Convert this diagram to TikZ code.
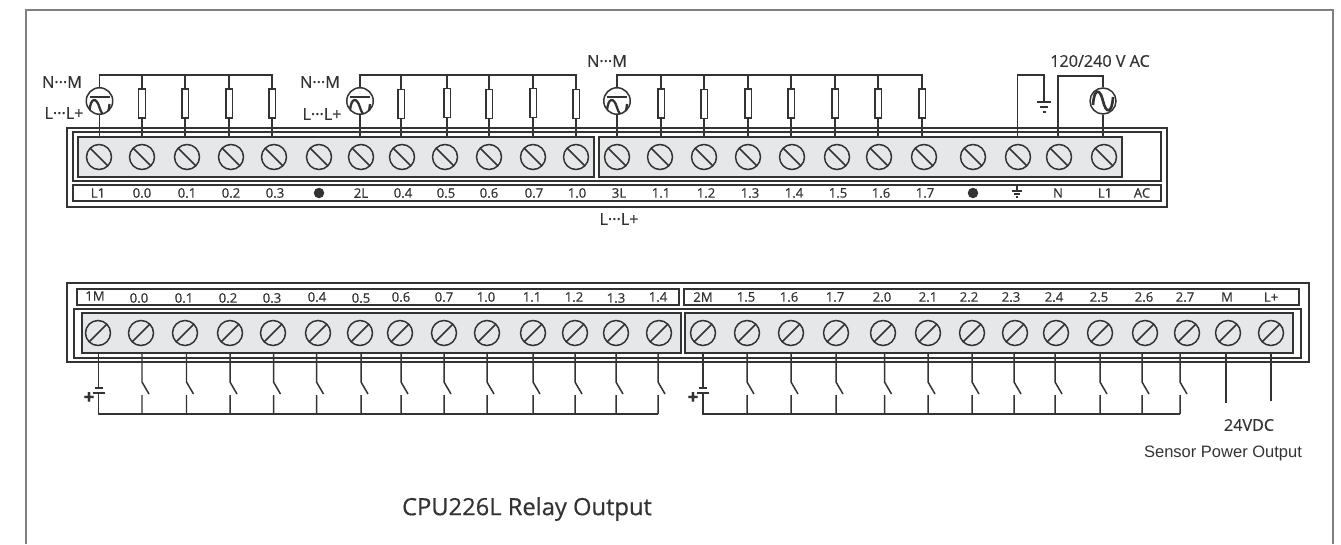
\documentclass[tikz,border=0pt]{standalone}
\usepackage{fontspec}
\setmainfont{Open Sans}[FakeBold=0.5]
\newfontfamily\sensorfont{Liberation Sans}
\usepackage{tikz}
\usetikzlibrary{calc}
\definecolor{wire}{HTML}{333333}
\definecolor{strip}{HTML}{E6E7E8}
\definecolor{sheet}{HTML}{808080}

\begin{document}
\begin{tikzpicture}[x=0.02cm,y=-0.02cm,line width=0.85pt,draw=wire,text=wire,
                    block/.style={draw, fill=strip, inner sep=0},
                    down/.style={circle, draw, inner sep=0, minimum size=0.5cm,
                                 path picture={\draw (path picture bounding box.north west) -- (path picture bounding box.south east);}},
                    up/.style={circle, draw, inner sep=0, minimum size=0.5cm,
                               path picture={\draw (path picture bounding box.south west) -- (path picture bounding box.north east);}},
                    res/.style={rectangle, draw, fill=white, inner sep=0, minimum width=0.13cm, minimum height=0.58cm},
                    ac/.style={circle, draw, fill=white, inner sep=0, minimum size=0.52cm,
                               path picture={\draw[line width=1.5pt, shift={(path picture bounding box.center)}]
                                  (-10,4) .. controls (-9,-13) and (-3,-13) .. (0,0) .. controls (3,13) and (9,13) .. (10,-4);}},
                    lamp/.style={circle, draw, fill=white, inner sep=0, minimum size=0.53cm,
                               path picture={\draw[line width=1.3pt, shift={(path picture bounding box.center)}]
                                  (-10,10) .. controls (-9,-4) and (-3,-4) .. (0,6.5) .. controls (3,17) and (9,17) .. (10,3);
                                  \draw[line width=1.7pt, shift={(path picture bounding box.center)}] (-10,-4) -- (10,-4);}},
                    lbl/.style={font=\fontsize{7.5}{8}\selectfont, inner sep=0},
                    volt/.style={font=\fontsize{9.2}{10}\selectfont, inner sep=0},
                    plus/.style={font=\bfseries\fontsize{11}{12}\selectfont, inner sep=0},
                    dot/.style={circle, fill=wire, inner sep=0, minimum size=0.21cm}]
    \useasboundingbox (0,0) rectangle (1341,544);

    % sheet border
    \coordinate (sheetBL) at (26,544);
    \coordinate (sheetTL) at (26,10);
    \coordinate (sheetTR) at (1333,10);
    \coordinate (sheetBR) at (1333,544);
    \draw[sheet, line width=1pt] (sheetBL) -- (sheetTL) -- (sheetTR) -- (sheetBR);

    % chart top
    \draw (67,128) rectangle (1167,207);
    \draw (73,132) rectangle (1161,181);
    \draw (73,185) rectangle (1161,201);
    \node[block, minimum width=10.32cm, minimum height=0.8cm] (boxTa) at (336,157) {};
    \node[block, minimum width=10.46cm, minimum height=0.8cm] (boxTb) at (860.5,157) {};

    % screws top
    \node[down] (a00) at (99,157) {};
    \node[down] (a01) at (142,157) {};
    \node[down] (a02) at (187,157) {};
    \node[down] (a03) at (231,157) {};
    \node[down] (a04) at (274,157) {};
    \node[down] (a05) at (319,157) {};
    \node[down] (a06) at (361,157) {};
    \node[down] (a07) at (402,157) {};
    \node[down] (a08) at (445,157) {};
    \node[down] (a09) at (489,157) {};
    \node[down] (a10) at (533,157) {};
    \node[down] (a11) at (576,157) {};
    \node[down] (a12) at (617,157) {};
    \node[down] (a13) at (660,157) {};
    \node[down] (a14) at (704,157) {};
    \node[down] (a15) at (748,157) {};
    \node[down] (a16) at (792,157) {};
    \node[down] (a17) at (837,157) {};
    \node[down] (a18) at (879,157) {};
    \node[down] (a19) at (924,157) {};
    \node[down] (a20) at (973,157) {};
    \node[down] (a21) at (1018,157) {};
    \node[down] (a22) at (1059,157) {};
    \node[down] (a23) at (1104,157) {};

    % labels top
    \node[lbl] (ta00) at (98,193) {L1};
    \node[lbl] (ta01) at (142,193) {0.0};
    \node[lbl] (ta02) at (187,193) {0.1};
    \node[lbl] (ta03) at (231,193) {0.2};
    \node[lbl] (ta04) at (275,193) {0.3};
    \node[dot] (ta05) at (319,193) {};
    \node[lbl] (ta06) at (361,193) {2L};
    \node[lbl] (ta07) at (403,193) {0.4};
    \node[lbl] (ta08) at (446,193) {0.5};
    \node[lbl] (ta09) at (489,193) {0.6};
    \node[lbl] (ta10) at (534,193) {0.7};
    \node[lbl] (ta11) at (577,193) {1.0};
    \node[lbl] (ta12) at (619,193) {3L};
    \node[lbl] (ta13) at (661,193) {1.1};
    \node[lbl] (ta14) at (706,193) {1.2};
    \node[lbl] (ta15) at (750,193) {1.3};
    \node[lbl] (ta16) at (794,193) {1.4};
    \node[lbl] (ta17) at (838,193) {1.5};
    \node[lbl] (ta18) at (881,193) {1.6};
    \node[lbl] (ta19) at (925,193) {1.7};
    \node[dot] (ta20) at (973,193) {};
    \node[lbl] (ta22) at (1058,193) {N};
    \node[lbl] (ta23) at (1105,193) {L1};
    \node[lbl] (ta24) at (1142,193) {AC};
    % earth in strip
    \coordinate (gndS) at (1017,191);
    \draw (gndS |- 0,185) -- (gndS);
    \draw (gndS) +(-5,0) -- +(5,0);
    \draw (gndS) +(-3,3) -- +(3,3);
    \draw (gndS) +(-1,6) -- +(1,6);

    % loads top
    \coordinate (busA) at (272,75);
    \coordinate (busB) at (576,75);
    \coordinate (busC) at (922,75);
    \node[lamp] (lampA) at (99.5,101) {};
    \node[res] (r01) at (142,103.5) {};
    \node[res] (r02) at (185,103.5) {};
    \node[res] (r03) at (229,103.5) {};
    \node[res] (r04) at (272,103.5) {};
    \node[lamp] (lampB) at (360,101) {};
    \node[res] (r07) at (401,104) {};
    \node[res] (r08) at (447,103) {};
    \node[res] (r09) at (489,104) {};
    \node[res] (r10) at (533,103) {};
    \node[res] (r11) at (576,104) {};
    \node[lamp] (lampC) at (617,101) {};
    \node[res] (r13) at (661,103.5) {};
    \node[res] (r14) at (704,104) {};
    \node[res] (r15) at (748,103.5) {};
    \node[res] (r16) at (791,103.5) {};
    \node[res] (r17) at (835,103.5) {};
    \node[res] (r18) at (878,103.5) {};
    \node[res] (r19) at (922,103.5) {};

    \draw (lampA.north) |- (busA) -- (r04.north);
    \draw (lampB.north) |- (busB) -- (r11.north);
    \draw (lampC.north) |- (busC) -- (r19.north);
    \draw (lampA.south) -- (lampA |- boxTa.north);
    \draw (lampB.south) -- (lampB |- boxTa.north);
    \draw (lampC.south) -- (lampC |- boxTb.north);
    \path[draw]
        (r01.north) edge (r01 |- busA)
        (r02.north) edge (r02 |- busA)
        (r03.north) edge (r03 |- busA)
        (r07.north) edge (r07 |- busB)
        (r08.north) edge (r08 |- busB)
        (r09.north) edge (r09 |- busB)
        (r10.north) edge (r10 |- busB)
        (r13.north) edge (r13 |- busC)
        (r14.north) edge (r14 |- busC)
        (r15.north) edge (r15 |- busC)
        (r16.north) edge (r16 |- busC)
        (r17.north) edge (r17 |- busC)
        (r18.north) edge (r18 |- busC)
        (r01.south) edge (r01 |- boxTa.north)
        (r02.south) edge (r02 |- boxTa.north)
        (r03.south) edge (r03 |- boxTa.north)
        (r04.south) edge (r04 |- boxTa.north)
        (r07.south) edge (r07 |- boxTa.north)
        (r08.south) edge (r08 |- boxTa.north)
        (r09.south) edge (r09 |- boxTa.north)
        (r10.south) edge (r10 |- boxTa.north)
        (r11.south) edge (r11 |- boxTa.north)
        (r13.south) edge (r13 |- boxTb.north)
        (r14.south) edge (r14 |- boxTb.north)
        (r15.south) edge (r15 |- boxTb.north)
        (r16.south) edge (r16 |- boxTb.north)
        (r17.south) edge (r17 |- boxTb.north)
        (r18.south) edge (r18 |- boxTb.north)
        (r19.south) edge (r19 |- boxTb.north);

    % earth and mains
    \coordinate (gndA) at (1044,102);
    \coordinate (gndTop) at (1017.5,75);
    \coordinate (acTop) at (1058,76);
    \node[ac] (acA) at (1103,101) {};
    \draw (gndTop |- boxTb.north) -- (gndTop) -| (gndA);
    \draw (gndA) +(-7,0) -- +(7,0);
    \draw (gndA) +(-4,5) -- +(4,5);
    \draw (gndA) +(-1.5,10) -- +(1.5,10);
    \draw (acTop |- boxTb.north) -- (acTop) -| (acA.north);
    \draw (acA.south) -- (acA |- boxTb.north);

    % voltages top
    \node[volt] (nmA) at (62,82) {N···M};
    \node[volt] (llA) at (64,113) {L···L+};
    \node[volt] (nmB) at (320,82) {N···M};
    \node[volt] (llB) at (322,114) {L···L+};
    \node[volt] (nmC) at (607,61) {N···M};
    \node[volt] (llC) at (619,219) {L···L+};
    \node[volt] (acT) at (1100,61) {120/240 V AC};

    % chart bottom
    \draw (67,283) rectangle (1309,362);
    \draw (74,309) rectangle (1301,358);
    \draw (77,289) rectangle (679,305);
    \draw (684,289) rectangle (1299,305);
    \node[block, minimum width=11.98cm, minimum height=0.8cm] (boxBa) at (381.5,333) {};
    \node[block, minimum width=12.16cm, minimum height=0.8cm] (boxBb) at (989,333) {};

    % screws bottom
    \node[up] (b00) at (98,333) {};
    \node[up] (b01) at (141,333) {};
    \node[up] (b02) at (185,333) {};
    \node[up] (b03) at (230,333) {};
    \node[up] (b04) at (273,333) {};
    \node[up] (b05) at (318,333) {};
    \node[up] (b06) at (360,333) {};
    \node[up] (b07) at (400,333) {};
    \node[up] (b08) at (444,333) {};
    \node[up] (b09) at (487,333) {};
    \node[up] (b10) at (533,333) {};
    \node[up] (b11) at (575,333) {};
    \node[up] (b12) at (616,333) {};
    \node[up] (b13) at (659,333) {};
    \node[up] (b14) at (703,333) {};
    \node[up] (b15) at (747,333) {};
    \node[up] (b16) at (791,333) {};
    \node[up] (b17) at (836,333) {};
    \node[up] (b18) at (883,333) {};
    \node[up] (b19) at (928,333) {};
    \node[up] (b20) at (972,333) {};
    \node[up] (b21) at (1015,333) {};
    \node[up] (b22) at (1056,333) {};
    \node[up] (b23) at (1100,333) {};
    \node[up] (b24) at (1145,333) {};
    \node[up] (b25) at (1187,333) {};
    \node[up] (b26) at (1228,333) {};
    \node[up] (b27) at (1271,333) {};

    % labels bottom
    \node[lbl] (tb00) at (95,296) {1M};
    \node[lbl] (tb01) at (139,298) {0.0};
    \node[lbl] (tb02) at (184,298) {0.1};
    \node[lbl] (tb03) at (228,298) {0.2};
    \node[lbl] (tb04) at (272,298) {0.3};
    \node[lbl] (tb05) at (317,297) {0.4};
    \node[lbl] (tb06) at (361,298) {0.5};
    \node[lbl] (tb07) at (401,297) {0.6};
    \node[lbl] (tb08) at (444,297) {0.7};
    \node[lbl] (tb09) at (486,297) {1.0};
    \node[lbl] (tb10) at (532,297) {1.1};
    \node[lbl] (tb11) at (574,297) {1.2};
    \node[lbl] (tb12) at (616,298) {1.3};
    \node[lbl] (tb13) at (658,297) {1.4};
    \node[lbl] (tb14) at (703,297) {2M};
    \node[lbl] (tb15) at (746,297) {1.5};
    \node[lbl] (tb16) at (789,297) {1.6};
    \node[lbl] (tb17) at (835,297) {1.7};
    \node[lbl] (tb18) at (882,297) {2.0};
    \node[lbl] (tb19) at (928,297) {2.1};
    \node[lbl] (tb20) at (969,297) {2.2};
    \node[lbl] (tb21) at (1011,297) {2.3};
    \node[lbl] (tb22) at (1054,297) {2.4};
    \node[lbl] (tb23) at (1099,297) {2.5};
    \node[lbl] (tb24) at (1144,297) {2.6};
    \node[lbl] (tb25) at (1185,297) {2.7};
    \node[lbl] (tb26) at (1227,297) {M};
    \node[lbl] (tb27) at (1271,297) {L+};

    % switches first group
    \coordinate (busD) at (658,414);
    \coordinate (batD) at (98.5,388);
    \draw (batD |- boxBa.south) -- (batD);
    \draw (batD) +(-4,0) -- +(4,0);
    \draw[line width=1.1pt] (batD) +(-6,5) -- +(6,5);
    \draw (batD) ++(0,5) |- (busD);
    \node[plus] (plusD) at (89,398) {+};
    \coordinate (k01) at (142,382);
    \coordinate (k02) at (186.5,382);
    \coordinate (k03) at (230,382);
    \coordinate (k04) at (273.5,382);
    \coordinate (k05) at (316.5,382);
    \coordinate (k06) at (361,382);
    \coordinate (k07) at (401,382);
    \coordinate (k08) at (444,382);
    \coordinate (k09) at (487,382);
    \coordinate (k10) at (533,382);
    \coordinate (k11) at (575,382);
    \coordinate (k12) at (616,382);
    \coordinate (k13) at (658,382);
    \draw (k01 |- boxBa.south) -- (k01) -- +(7,12) (k01 |- busD) -- +(0,-19);
    \draw (k02 |- boxBa.south) -- (k02) -- +(7,12) (k02 |- busD) -- +(0,-19);
    \draw (k03 |- boxBa.south) -- (k03) -- +(7,12) (k03 |- busD) -- +(0,-19);
    \draw (k04 |- boxBa.south) -- (k04) -- +(7,12) (k04 |- busD) -- +(0,-19);
    \draw (k05 |- boxBa.south) -- (k05) -- +(7,12) (k05 |- busD) -- +(0,-19);
    \draw (k06 |- boxBa.south) -- (k06) -- +(7,12) (k06 |- busD) -- +(0,-19);
    \draw (k07 |- boxBa.south) -- (k07) -- +(7,12) (k07 |- busD) -- +(0,-19);
    \draw (k08 |- boxBa.south) -- (k08) -- +(7,12) (k08 |- busD) -- +(0,-19);
    \draw (k09 |- boxBa.south) -- (k09) -- +(7,12) (k09 |- busD) -- +(0,-19);
    \draw (k10 |- boxBa.south) -- (k10) -- +(7,12) (k10 |- busD) -- +(0,-19);
    \draw (k11 |- boxBa.south) -- (k11) -- +(7,12) (k11 |- busD) -- +(0,-19);
    \draw (k12 |- boxBa.south) -- (k12) -- +(7,12) (k12 |- busD) -- +(0,-19);
    \draw (k13 |- boxBa.south) -- (k13) -- +(7,12) (k13 |- busD) -- +(0,-19);

    % switches second group
    \coordinate (busE) at (1180,414);
    \coordinate (batE) at (703,388);
    \draw (batE |- boxBb.south) -- (batE);
    \draw (batE) +(-4,0) -- +(4,0);
    \draw[line width=1.1pt] (batE) +(-6,5) -- +(6,5);
    \draw (batE) ++(0,5) |- (busE);
    \node[plus] (plusE) at (693,398) {+};
    \coordinate (k15) at (747,382);
    \coordinate (k16) at (791,382);
    \coordinate (k17) at (836,382);
    \coordinate (k18) at (884.5,382);
    \coordinate (k19) at (928,382);
    \coordinate (k20) at (972,382);
    \coordinate (k21) at (1014,382);
    \coordinate (k22) at (1055,382);
    \coordinate (k23) at (1100,382);
    \coordinate (k24) at (1142,382);
    \coordinate (k25) at (1180,382);
    \draw (k15 |- boxBb.south) -- (k15) -- +(7,12) (k15 |- busE) -- +(0,-19);
    \draw (k16 |- boxBb.south) -- (k16) -- +(7,12) (k16 |- busE) -- +(0,-19);
    \draw (k17 |- boxBb.south) -- (k17) -- +(7,12) (k17 |- busE) -- +(0,-19);
    \draw (k18 |- boxBb.south) -- (k18) -- +(7,12) (k18 |- busE) -- +(0,-19);
    \draw (k19 |- boxBb.south) -- (k19) -- +(7,12) (k19 |- busE) -- +(0,-19);
    \draw (k20 |- boxBb.south) -- (k20) -- +(7,12) (k20 |- busE) -- +(0,-19);
    \draw (k21 |- boxBb.south) -- (k21) -- +(7,12) (k21 |- busE) -- +(0,-19);
    \draw (k22 |- boxBb.south) -- (k22) -- +(7,12) (k22 |- busE) -- +(0,-19);
    \draw (k23 |- boxBb.south) -- (k23) -- +(7,12) (k23 |- busE) -- +(0,-19);
    \draw (k24 |- boxBb.south) -- (k24) -- +(7,12) (k24 |- busE) -- +(0,-19);
    \draw (k25 |- boxBb.south) -- (k25) -- +(7,12) (k25 |- busE) -- +(0,-19);

    % sensor supply
    \coordinate (outM) at (1226,403);
    \coordinate (outL) at (1271,401);
    \draw (outM |- boxBb.south) -- (outM);
    \draw (outL |- boxBb.south) -- (outL);
    \node[font=\fontsize{9.2}{10}\selectfont, inner sep=0] (dcT) at (1249,425) {24VDC};
    \node[font=\sensorfont\fontsize{9.4}{10}\selectfont, inner sep=0] (sensorT) at (1223,453) {Sensor Power Output};
    \node[font=\fontsize{13.5}{15}\selectfont, inner sep=0] (cpuT) at (527,509) {CPU226L Relay Output};
\end{tikzpicture}
\end{document}
